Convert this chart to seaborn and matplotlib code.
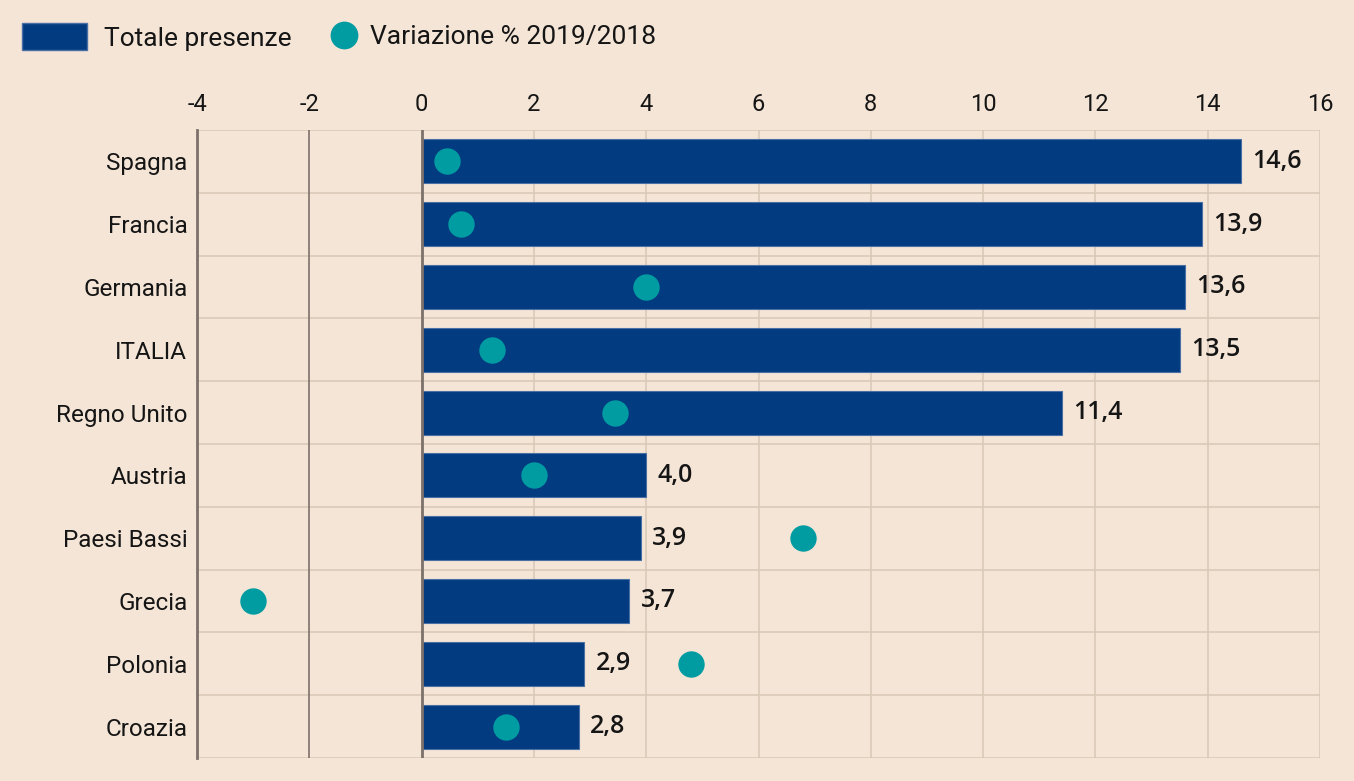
import matplotlib
matplotlib.use("Agg")
import matplotlib.pyplot as plt
import seaborn as sns
import pandas as pd
from matplotlib.patches import Patch
from matplotlib.lines import Line2D

# dati
paesi = ['Spagna', 'Francia', 'Germania', 'ITALIA', 'Regno Unito',
         'Austria', 'Paesi Bassi', 'Grecia', 'Polonia', 'Croazia']
presenze = [14.6, 13.9, 13.6, 13.5, 11.4, 4.0, 3.9, 3.7, 2.9, 2.8]
variazione = [0.45, 0.7, 4.0, 1.25, 3.45, 2.0, 6.8, -3.0, 4.8, 1.5]
x_ticks = [-4, -2, 0, 2, 4, 6, 8, 10, 12, 14, 16]

df = pd.DataFrame({'paese': paesi, 'presenze': presenze, 'variazione': variazione})

bg = '#f5e5d6'
blu = '#023b80'
verde = '#009ca2'
griglia = '#dbc9b8'
scuro = '#7d716b'
testo = '#151515'

sns.set_theme(style='white')
plt.rcParams['font.family'] = ['Roboto', 'DejaVu Sans']

fig = plt.figure(figsize=(13.54, 7.81), dpi=100, facecolor=bg)
ax = fig.add_axes([197 / 1354, 1 - 758 / 781, (1320 - 197) / 1354, (758 - 130) / 781])
ax.set_facecolor(bg)

sns.barplot(data=df, x='presenze', y='paese', color=blu, width=0.7,
            saturation=1, edgecolor='#4a6fa5', linewidth=0.8, ax=ax, zorder=3)
sns.stripplot(data=df, x='variazione', y='paese', color=verde, jitter=False,
              size=19, linewidth=0, ax=ax, zorder=5)

ax.bar_label(ax.containers[0], labels=[f'{v:.1f}'.replace('.', ',') for v in presenze],
             padding=8, fontsize=18, fontweight='semibold', color=testo,
             family=['Open Sans', 'DejaVu Sans'])

ax.set_xlim(-4, 16)
ax.set_ylim(len(paesi) - 0.5, -0.5)
ax.set_xticks(x_ticks)
ax.set_xticklabels([str(t) for t in x_ticks])
ax.xaxis.tick_top()
ax.tick_params(axis='x', length=0, pad=10, labelsize=17, colors=testo)
ax.tick_params(axis='y', length=0, pad=7, labelsize=17.5, colors=testo)
ax.set_xlabel('')
ax.set_ylabel('')

# griglia
for t in x_ticks[2:]:
    ax.axvline(t, color=griglia, lw=1.2, zorder=1)
for i in range(len(paesi) + 1):
    ax.axhline(i - 0.5, color=griglia, lw=1.2, zorder=1)
ax.axvline(-2, color=scuro, lw=1.2, zorder=2)
ax.axvline(0, color=scuro, lw=2, zorder=4)

for s in ['top', 'right', 'bottom']:
    ax.spines[s].set_visible(False)
ax.spines['left'].set_color(scuro)
ax.spines['left'].set_linewidth(2)

# legenda
fig.legend(handles=[Patch(facecolor=blu, edgecolor='#4a6fa5', label='Totale presenze')],
           loc='center left', bbox_to_anchor=(22 / 1354, 1 - 37 / 781),
           frameon=False, fontsize=19, handlelength=2.45, handleheight=1.2,
           handletextpad=0.65, borderpad=0, borderaxespad=0, labelcolor=testo)
fig.legend(handles=[Line2D([], [], marker='o', color='none', markerfacecolor=verde,
                           markeredgewidth=0, markersize=20, label='Variazione % 2019/2018')],
           loc='center left', bbox_to_anchor=(326 / 1354, 1 - 37 / 781),
           frameon=False, fontsize=19, handlelength=1.35, handletextpad=0.3,
           borderpad=0, borderaxespad=0, labelcolor=testo)

fig.savefig('out.png', dpi=100, facecolor=bg)
